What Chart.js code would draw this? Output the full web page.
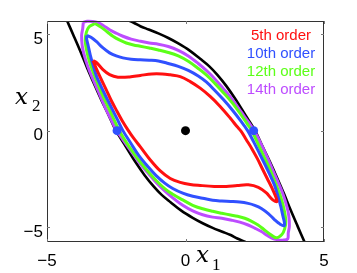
<!DOCTYPE html>
<html>
<head>
<meta charset="utf-8">
<script src="https://cdn.jsdelivr.net/npm/chart.js@4.4.1/dist/chart.umd.min.js"></script>
<style>
  html, body { margin: 0; padding: 0; background: #fff; }
  #wrap { width: 357px; height: 273px; }
</style>
</head>
<body>
<div id="wrap"><canvas id="roaChart" width="357" height="273"></canvas></div>
<script>
    // level set estimates, points are [x1, x2]
    const order5 = [
        [-3.34,3.63],[-3.22,3.54],[-2.98,3.16],[-2.74,2.90],[-2.44,2.77],[-2.02,2.78],[-1.63,2.86],[-1.22,2.94],
        [-0.84,2.94],[-0.55,2.89],[-0.19,2.80],[0.17,2.54],[0.53,2.20],[0.90,1.76],[1.26,1.24],[1.62,0.64],
        [1.86,0.21],[2.01,-0.04],[2.19,-0.46],[2.39,-0.92],[2.59,-1.44],[2.77,-1.96],[2.95,-2.48],[3.12,-2.97],
        [3.24,-3.36],[3.30,-3.68],[3.13,-3.56],[2.92,-3.23],[2.63,-2.94],[2.27,-2.81],[1.87,-2.84],[1.47,-2.89],
        [1.04,-2.89],[0.53,-2.84],[0.17,-2.79],[-0.19,-2.68],[-0.55,-2.48],[-0.91,-2.09],[-1.27,-1.52],[-1.63,-0.84],
        [-1.88,-0.38],[-2.08,0.04],[-2.28,0.50],[-2.48,1.02],[-2.68,1.56],[-2.86,2.11],[-3.04,2.65],[-3.20,3.15],
        [-3.34,3.63]
    ];
    const order10 = [
        [-3.56,4.93],[-3.40,4.83],[-3.22,4.62],[-3.00,4.31],[-2.74,4.03],[-2.50,3.87],[-2.26,3.77],[-1.96,3.70],
        [-1.63,3.67],[-1.31,3.65],[-0.98,3.61],[-0.62,3.48],[-0.26,3.33],[0.10,3.12],[0.46,2.83],[0.75,2.52],
        [1.06,2.08],[1.36,1.62],[1.69,1.07],[1.98,0.53],[2.26,-0.04],[2.47,-0.61],[2.68,-1.21],[2.86,-1.73],
        [3.04,-2.27],[3.21,-2.81],[3.34,-3.41],[3.44,-3.93],[3.52,-4.45],[3.57,-4.76],
        [3.56,-4.93],[3.40,-4.83],[3.22,-4.62],[3.00,-4.31],[2.74,-4.03],[2.50,-3.87],[2.26,-3.77],[1.96,-3.70],
        [1.63,-3.67],[1.31,-3.65],[0.98,-3.61],[0.62,-3.50],[0.26,-3.40],[-0.10,-3.24],[-0.46,-3.00],[-0.75,-2.72],
        [-1.06,-2.33],[-1.36,-1.86],[-1.69,-1.28],[-1.98,-0.64],[-2.26,0.00],[-2.47,0.61],[-2.68,1.21],[-2.86,1.73],
        [-3.04,2.27],[-3.21,2.81],[-3.34,3.41],[-3.44,3.93],[-3.52,4.45],[-3.57,4.76],[-3.56,4.93]
    ];
    const order12 = [
        [-3.27,5.55],[-3.04,5.35],[-2.82,5.11],[-2.62,4.89],[-2.39,4.70],[-2.14,4.54],[-1.88,4.44],[-1.63,4.37],
        [-1.31,4.28],[-0.98,4.18],[-0.62,4.05],[-0.26,3.87],[0.10,3.59],[0.46,3.22],[0.75,2.89],[1.06,2.45],
        [1.36,1.98],[1.69,1.44],[2.01,0.81],[2.23,0.35],[2.40,-0.02],[2.61,-0.66],[2.81,-1.28],[3.01,-1.88],
        [3.17,-2.45],[3.33,-3.02],[3.46,-3.54],[3.57,-4.16],[3.62,-4.68],[3.58,-5.09],[3.48,-5.38],
        [3.27,-5.55],[3.04,-5.35],[2.82,-5.11],[2.62,-4.89],[2.39,-4.70],[2.14,-4.54],[1.88,-4.44],[1.63,-4.37],
        [1.31,-4.28],[0.98,-4.18],[0.62,-4.05],[0.26,-3.87],[-0.10,-3.59],[-0.46,-3.30],[-0.75,-3.00],[-1.06,-2.58],
        [-1.36,-2.10],[-1.69,-1.52],[-2.01,-0.88],[-2.23,-0.40],[-2.40,0.02],[-2.61,0.66],[-2.81,1.28],[-3.01,1.88],
        [-3.17,2.45],[-3.33,3.02],[-3.46,3.54],[-3.57,4.16],[-3.62,4.68],[-3.58,5.09],[-3.48,5.38],[-3.27,5.55]
    ];
    const order14 = [
        [-3.69,5.61],[-3.55,5.67],[-3.36,5.66],[-3.18,5.61],[-2.97,5.45],[-2.74,5.23],[-2.50,5.05],[-2.26,4.89],
        [-1.96,4.74],[-1.63,4.63],[-1.31,4.54],[-0.98,4.48],[-0.62,4.36],[-0.26,4.16],[0.10,3.87],[0.46,3.48],
        [0.75,3.12],[1.06,2.68],[1.36,2.19],[1.69,1.62],[2.01,0.97],[2.27,0.45],[2.48,0.01],[2.70,-0.61],
        [2.94,-1.34],[3.15,-2.04],[3.36,-2.73],[3.53,-3.33],[3.66,-3.94],[3.73,-4.42],[3.75,-4.94],[3.71,-5.30],
        [3.69,-5.61],[3.55,-5.67],[3.36,-5.66],[3.18,-5.61],[2.97,-5.45],[2.74,-5.23],[2.50,-5.05],[2.26,-4.89],
        [1.96,-4.74],[1.63,-4.63],[1.31,-4.54],[0.98,-4.48],[0.62,-4.36],[0.26,-4.16],[-0.10,-3.87],[-0.46,-3.48],
        [-0.75,-3.12],[-1.06,-2.68],[-1.36,-2.19],[-1.69,-1.62],[-2.01,-0.97],[-2.27,-0.45],[-2.48,-0.01],[-2.70,0.61],
        [-2.94,1.34],[-3.15,2.04],[-3.36,2.73],[-3.53,3.33],[-3.66,3.94],[-3.73,4.42],[-3.75,4.94],[-3.71,5.30],
        [-3.69,5.61]
    ];
    // the two black boundary curves
    const boundRight = [
        [-2.41,5.92],[-2.14,5.75],[-1.87,5.59],[-1.63,5.41],[-1.33,5.24],[-0.98,5.04],[-0.62,4.80],[-0.26,4.52],
        [0.14,4.16],[0.53,3.72],[0.86,3.33],[1.15,2.89],[1.47,2.32],[1.80,1.64],[2.16,0.81],[2.52,-0.02],
        [2.77,-0.79],[3.04,-1.59],[3.29,-2.39],[3.55,-3.25],[3.80,-4.13],[4.05,-4.96],[4.29,-5.74],[4.45,-6.25]
    ];
    const boundLeft = [
        [2.41,-5.92],[2.14,-5.75],[1.87,-5.59],[1.63,-5.41],[1.33,-5.24],[0.98,-5.04],[0.62,-4.80],[0.26,-4.52],
        [-0.14,-4.16],[-0.53,-3.72],[-0.86,-3.33],[-1.15,-2.89],[-1.47,-2.32],[-1.80,-1.64],[-2.16,-0.81],[-2.52,0.02],
        [-2.77,0.79],[-3.04,1.59],[-3.29,2.39],[-3.55,3.25],[-3.80,4.13],[-4.05,4.96],[-4.29,5.74],[-4.45,6.25]
    ];
    const saddles = [[-2.47,0],[2.46,0]];
    const origin = [[0,0]];

    const legendNames = ['5th order', '10th order', '12th order', '14th order'];
    const legendColors = ['#ff1010', '#3050ff', '#5cff18', '#bd4cff'];
    const xTicks = [-5, 0, 5];
    const yTicks = [-5, 0, 5];

    function toPoints(arr) {
        return arr.map(p => ({x: p[0], y: p[1]}));
    }

    function curve(arr, color, width, clip) {
        return {
            data: toPoints(arr),
            showLine: true,
            borderColor: color,
            borderWidth: width,
            pointRadius: 0,
            tension: 0.35,
            fill: false,
            clip: clip
        };
    }

    function dots(arr, color) {
        return {
            data: toPoints(arr),
            showLine: false,
            pointRadius: 4.5,
            pointBackgroundColor: color,
            pointBorderWidth: 0
        };
    }

    function minusLabel(v) {
        return v < 0 ? '\u2212' + Math.abs(v) : String(v);
    }

    // box, inward ticks, axis names and the coloured legend text
    const decorPlugin = {
        id: 'decor',
        afterDraw(chart) {
            const ctx = chart.ctx;
            const a = chart.chartArea;
            const xs = chart.scales.x;
            const ys = chart.scales.y;
            ctx.save();
            ctx.strokeStyle = '#333';
            ctx.lineWidth = 1;
            ctx.strokeRect(a.left + 0.5, a.top + 0.5, a.right - a.left - 1, a.bottom - a.top - 1);

            ctx.strokeStyle = '#777';
            ctx.beginPath();
            xTicks.forEach(v => {
                const px = Math.round(xs.getPixelForValue(v)) + 0.5;
                ctx.moveTo(px, a.bottom); ctx.lineTo(px, a.bottom - 3);
                ctx.moveTo(px, a.top); ctx.lineTo(px, a.top + 3);
            });
            yTicks.forEach(v => {
                const py = Math.round(ys.getPixelForValue(v)) + 0.5;
                ctx.moveTo(a.left, py); ctx.lineTo(a.left + 3, py);
                ctx.moveTo(a.right, py); ctx.lineTo(a.right - 3, py);
            });
            ctx.stroke();

            ctx.fillStyle = '#000';
            ctx.textAlign = 'left';
            ctx.textBaseline = 'alphabetic';
            ctx.font = 'italic 23px "DejaVu Serif"';
            ctx.fillText('x', 196, 262);
            ctx.fillText('x', 15, 103.5);
            ctx.font = '17px "Liberation Serif"';
            ctx.fillText('1', 212, 269.5);
            ctx.fillText('2', 32, 110.5);

            ctx.textAlign = 'center';
            ctx.font = '15px "Liberation Sans"';
            legendNames.forEach((name, i) => {
                ctx.fillStyle = legendColors[i];
                ctx.fillText(name, 281, 39.5 + i * 18.3);
            });
            ctx.restore();
        }
    };

    const ctx = document.getElementById('roaChart').getContext('2d');

    new Chart(ctx, {
        type: 'scatter',
        data: {
            datasets: [
                dots(origin, '#000'),
                dots(saddles, legendColors[1]),
                curve(order5, legendColors[0], 3, 3),
                curve(order10, legendColors[1], 3, 3),
                curve(order12, legendColors[2], 3, 3),
                curve(order14, legendColors[3], 3, 3),
                curve(boundRight, '#000', 2.6, 0),
                curve(boundLeft, '#000', 2.6, 0)
            ]
        },
        options: {
            responsive: false,
            animation: false,
            devicePixelRatio: 1,
            layout: { padding: { top: 21, right: 33, left: 0, bottom: 0 } },
            plugins: {
                legend: { display: false },
                tooltip: { enabled: false }
            },
            scales: {
                x: {
                    type: 'linear',
                    min: -5,
                    max: 5,
                    afterFit: s => { s.height = 31; },
                    afterBuildTicks: s => { s.ticks = xTicks.map(v => ({value: v})); },
                    grid: { display: false, drawTicks: false },
                    border: { display: false },
                    ticks: {
                        padding: 9,
                        color: '#000',
                        maxRotation: 0,
                        font: { family: 'Liberation Sans', size: 17 },
                        callback: minusLabel
                    }
                },
                y: {
                    type: 'linear',
                    min: -5.77,
                    max: 5.68,
                    afterFit: s => { s.width = 47; },
                    afterBuildTicks: s => { s.ticks = yTicks.map(v => ({value: v})); },
                    grid: { display: false, drawTicks: false },
                    border: { display: false },
                    ticks: {
                        padding: 4,
                        labelOffset: 5,
                        color: '#000',
                        font: { family: 'Liberation Sans', size: 17 },
                        callback: minusLabel
                    }
                }
            }
        },
        plugins: [decorPlugin]
    });
</script>
</body>
</html>
